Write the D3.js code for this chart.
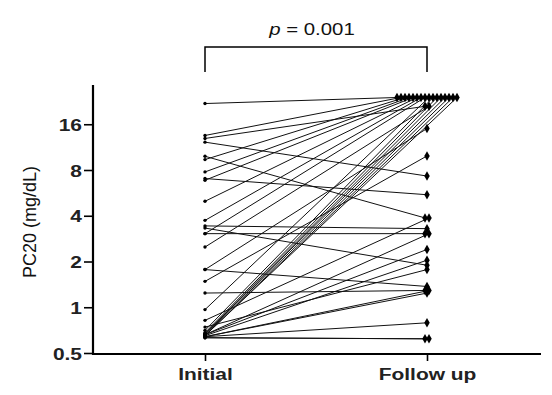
<!DOCTYPE html>
<html><head><meta charset="utf-8">
<script src="https://cdn.jsdelivr.net/npm/d3@7"></script>
<style>html,body{margin:0;padding:0;background:#fff}svg{display:block}</style>
</head><body>
<svg id="c" width="552" height="395"></svg>
<script>
const categories = ["Initial", "Follow up"];
const yTicks = [0.5, 1, 2, 4, 8, 16];
const pLabel = "= 0.001";
const yTitle = "PC20 (mg/dL)";
// paired PC20 values (mg/dL), one entry per subject
const initialVals = [21.9, 13.5, 12.9, 12.2, 9.85, 9.37, 7.77, 7.03, 6.85, 4.98, 3.73, 3.43, 3.32, 3.05, 3.05, 2.49,
  1.77, 1.77, 1.48, 1.24, 0.965, 0.82, 0.74, 0.705,
  0.68, 0.67, 0.67, 0.66, 0.66, 0.66, 0.65, 0.65, 0.65, 0.64, 0.64, 0.64, 0.63, 0.63];
const followVals = [24, 24, 21, 7.3, 3.87, 24, 24, 5.5, 24, 24, 24, 3.29, 1.89, 3.05, 24, 21,
  15, 1.37, 9.9, 1.29, 24, 3.87, 1.77, 24,
  24, 24, 24, 3.05, 24, 2.4, 24, 2.04, 24, 1.29, 1.24, 0.79, 0.62, 0.62];

const svg = d3.select("#c");
const x = d3.scalePoint().domain(categories).range([205, 427]);
const y = d3.scaleLog().base(2).domain([0.5, 29]).range([353, 85]);
const SX = 1.27; // horizontal stretch of the text in the reference

// horizontal spread for identical values within a column
function spread(vals) {
  const seen = new Map();
  vals.forEach(v => seen.set(v, (seen.get(v) || 0) + 1));
  const idx = new Map();
  return vals.map(v => {
    const n = seen.get(v), k = idx.get(v) || 0;
    idx.set(v, k + 1);
    return n > 1 ? (k - (n - 1) / 2) * 4 : 0;
  });
}
const offI = initialVals.map(() => 0);
const offF = spread(followVals);
const pairs = initialVals.map((v, i) => ({a: v, b: followVals[i], oa: offI[i], ob: offF[i]}));

// lines
svg.append("g").selectAll("line").data(pairs).join("line")
  .attr("x1", d => x(categories[0]) + d.oa).attr("y1", d => y(d.a))
  .attr("x2", d => x(categories[1]) + d.ob).attr("y2", d => y(d.b))
  .attr("stroke", "#111").attr("stroke-width", 1);

// markers
const symI = d3.symbol(d3.symbolCircle, 9);
const symF = d3.symbol(d3.symbolDiamond, 26);
svg.append("g").selectAll("path").data(pairs).join("path")
  .attr("d", symI).attr("fill", "#000")
  .attr("transform", d => `translate(${x(categories[0]) + d.oa},${y(d.a)})`);
svg.append("g").selectAll("path").data(pairs).join("path")
  .attr("d", symF).attr("fill", "#000")
  .attr("transform", d => `translate(${x(categories[1]) + d.ob},${y(d.b)})`);

// y axis
const yAxis = d3.axisLeft(y).tickValues(yTicks).tickFormat(d => d).tickSize(9).tickSizeOuter(0);
const gy = svg.append("g").attr("transform", "translate(93,0)").call(yAxis);
gy.select(".domain").attr("stroke", "#000").attr("stroke-width", 2.2).attr("d", `M0,${y.range()[1]}V355`);
gy.selectAll(".tick line").attr("stroke", "#000").attr("stroke-width", 1.6);
gy.selectAll(".tick text").attr("x", 0).attr("dy", null)
  .attr("font-family", "Liberation Sans, Arial, sans-serif").attr("font-weight", "bold").attr("font-size", 16.5)
  .attr("fill", "#222").attr("text-anchor", "end")
  .attr("transform", `translate(-11,6) scale(${SX},1)`);

// x axis
const xAxis = d3.axisBottom(x).tickSize(7).tickSizeOuter(0);
const gx = svg.append("g").attr("transform", "translate(0,354)").call(xAxis);
gx.select(".domain").attr("stroke", "#000").attr("stroke-width", 2.2).attr("d", "M92,0H541");
gx.selectAll(".tick line").attr("stroke", "#000").attr("stroke-width", 1.6);
gx.selectAll(".tick text").attr("y", 0).attr("dy", null)
  .attr("font-family", "Liberation Sans, Arial, sans-serif").attr("font-weight", "bold").attr("font-size", 16.5)
  .attr("fill", "#222").attr("text-anchor", "middle")
  .attr("transform", `translate(0,26) scale(${SX},1)`);

// y title
svg.append("text").attr("transform", "translate(36,222) rotate(-90)")
  .attr("text-anchor", "middle").attr("font-family", "Liberation Sans, Arial, sans-serif")
  .attr("font-size", 18).attr("fill", "#111").text(yTitle);

// significance bracket
const bx1 = x(categories[0]), bx2 = x(categories[1]);
svg.append("path").attr("d", `M${bx1},72V47H${bx2}V72`).attr("fill", "none")
  .attr("stroke", "#000").attr("stroke-width", 1.5);
const pt = svg.append("text").attr("text-anchor", "middle")
  .attr("font-family", "Liberation Sans, Arial, sans-serif").attr("font-size", 17).attr("fill", "#111")
  .attr("transform", `translate(${(bx1 + bx2) / 2 - 4},35) scale(1.2,1)`);
pt.append("tspan").attr("font-style", "italic").text("p");
pt.append("tspan").text(" " + pLabel);
</script>
</body></html>
